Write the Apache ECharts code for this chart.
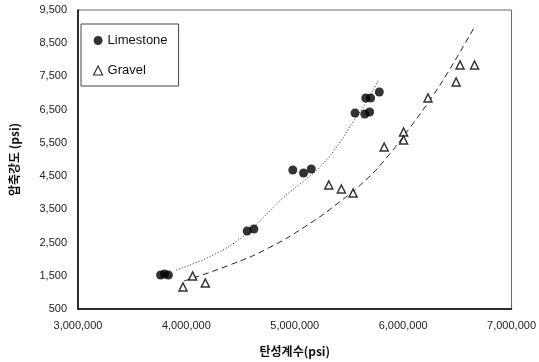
<!DOCTYPE html>
<html>
<head>
<meta charset="utf-8">
<script src="https://cdn.jsdelivr.net/npm/echarts@6/dist/echarts.min.js"></script>
<style>
  html, body { margin: 0; padding: 0; background: #fff; }
  #myChart { width: 539px; height: 362px; }
</style>
</head>
<body>
<div id="myChart"></div>
<script>
// measured points (x = 탄성계수 psi, y = 압축강도 psi)
var limestoneX = [3762000, 3798000, 3834000, 4561000, 4623000, 4982000, 5081000, 5152000, 5556000, 5646000, 5691000, 5655000, 5700000, 5780000];
var limestoneY = [1523, 1554, 1523, 2848, 2908, 4684, 4594, 4714, 6400, 6370, 6430, 6851, 6851, 7032];
var gravelX = [3969000, 4058000, 4175000, 5314000, 5430000, 5538000, 5825000, 6004000, 6004000, 6229000, 6489000, 6525000, 6659000];
var gravelY = [1162, 1493, 1283, 4232, 4112, 3992, 5376, 5828, 5587, 6851, 7333, 7844, 7844];

// trend lines
var limeTrendX = [3906000, 4247000, 4516000, 4695000, 4901000, 5117000, 5233000, 5413000, 5529000, 5655000, 5771000];
var limeTrendY = [1674, 2125, 2667, 3209, 3871, 4443, 4774, 5497, 6099, 6701, 7393];
var gravelTrendX = [3978000, 4399000, 4758000, 5117000, 5413000, 5655000, 5852000, 6067000, 6247000, 6426000, 6668000];
var gravelTrendY = [1343, 1824, 2336, 3028, 3721, 4383, 5075, 5978, 6791, 7694, 9048];

var xTicks = [3000000, 7000000, 1000000]; // min, max, step
var yTicks = [500, 9500, 1000];

function pairs(xs, ys) {
    var out = [];
    for (var i = 0; i < xs.length; i++) {
        out.push([xs[i], ys[i]]);
    }
    return out;
}

var labelFont = { color: '#222', fontSize: 11, fontFamily: 'Liberation Sans' };

var myChart = echarts.init(document.getElementById('myChart'));
var option = {
    backgroundColor: '#fff',
    animation: false,
    grid: {
        left: 71,
        right: 22,
        top: 10,
        bottom: 53,
        show: true,
        borderColor: '#666',
        borderWidth: 1
    },
    legend: {
        left: 81,
        top: 24,
        orient: 'vertical',
        itemGap: 17,
        itemWidth: 9,
        itemHeight: 9,
        padding: [10, 11, 9, 12],
        borderColor: '#444',
        borderWidth: 1,
        backgroundColor: '#fff',
        textStyle: { color: '#111', fontSize: 13, fontFamily: 'Liberation Sans' },
        data: [
            { name: 'Limestone', icon: 'circle', itemStyle: { color: '#000' } },
            { name: 'Gravel', icon: 'triangle', itemStyle: { color: '#fff', borderColor: '#000', borderWidth: 1.2 } }
        ]
    },
    xAxis: {
        type: 'value',
        min: xTicks[0],
        max: xTicks[1],
        interval: xTicks[2],
        name: '탄성계수(psi)',
        nameLocation: 'middle',
        nameGap: 36,
        nameTextStyle: { color: '#111', fontSize: 12, fontWeight: 'bold', fontFamily: 'Noto Sans CJK KR' },
        axisLine: { lineStyle: { color: '#000', width: 1.5 } },
        axisTick: { show: false },
        splitLine: { show: false },
        axisLabel: Object.assign({
            margin: 11,
            formatter: function (v) { return v.toLocaleString('en-US'); }
        }, labelFont)
    },
    yAxis: {
        type: 'value',
        min: yTicks[0],
        max: yTicks[1],
        interval: yTicks[2],
        name: '압축강도 (psi)',
        nameLocation: 'middle',
        nameGap: 58,
        nameTextStyle: { color: '#111', fontSize: 12, fontWeight: 'bold', fontFamily: 'Noto Sans CJK KR' },
        axisLine: { lineStyle: { color: '#000', width: 1.5 } },
        axisTick: { show: false },
        splitLine: { show: false },
        axisLabel: Object.assign({
            margin: 11,
            formatter: function (v) { return v.toLocaleString('en-US'); }
        }, labelFont)
    },
    series: [
        {
            name: 'Limestone',
            type: 'scatter',
            symbol: 'circle',
            symbolSize: 9,
            itemStyle: { color: '#000' },
            data: pairs(limestoneX, limestoneY),
            z: 5
        },
        {
            name: 'Gravel',
            type: 'scatter',
            symbol: 'triangle',
            symbolSize: 8,
            itemStyle: { color: '#fff', borderColor: '#000', borderWidth: 1.5 },
            data: pairs(gravelX, gravelY),
            z: 5
        },
        {
            name: 'limeTrend',
            type: 'line',
            smooth: true,
            showSymbol: false,
            lineStyle: { color: '#222', width: 1, type: [1, 2] },
            data: pairs(limeTrendX, limeTrendY)
        },
        {
            name: 'gravelTrend',
            type: 'line',
            smooth: true,
            showSymbol: false,
            lineStyle: { color: '#222', width: 1, type: [6, 4] },
            data: pairs(gravelTrendX, gravelTrendY)
        }
    ]
};
myChart.setOption(option);
</script>
</body>
</html>
